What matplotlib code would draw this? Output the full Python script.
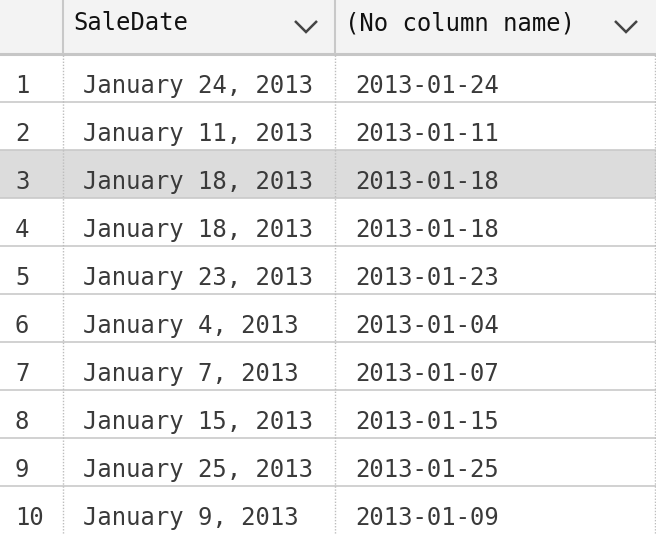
import matplotlib
matplotlib.use('Agg')
import matplotlib.pyplot as plt
from matplotlib.patches import Rectangle

row_numbers = [1, 2, 3, 4, 5, 6, 7, 8, 9, 10]
sale_dates = ['January 24, 2013', 'January 11, 2013', 'January 18, 2013',
              'January 18, 2013', 'January 23, 2013', 'January 4, 2013',
              'January 7, 2013', 'January 15, 2013', 'January 25, 2013',
              'January 9, 2013']
converted = ['2013-01-24', '2013-01-11', '2013-01-18', '2013-01-18',
             '2013-01-23', '2013-01-04', '2013-01-07', '2013-01-15',
             '2013-01-25', '2013-01-09']
columns = ['SaleDate', '(No column name)']
selected_row = 3

W, H = 656, 534
header_h = 53
row_h = 48
col_edges = [63, 335, 655]

fig = plt.figure(figsize=(W / 100, H / 100), dpi=100)
ax = fig.add_axes([0, 0, 1, 1])
ax.set_xlim(0, W)
ax.set_ylim(H, 0)
ax.axis('off')

font = 'DejaVu Sans Mono'
fs = 17.2

# header
ax.add_patch(Rectangle((0, 0), W, header_h, color='#f3f3f3', lw=0))
ax.plot([0, W], [header_h + 0.5, header_h + 0.5], color='#c6c6c6', lw=2.2)
for x in col_edges[:2]:
    ax.plot([x, x], [0, header_h], color='#c8c8c8', lw=1.5)
for i, name in enumerate(columns):
    ax.text(col_edges[i] + 10, 23, name, fontsize=fs, family=font,
            color='#111111', va='center', ha='left')
    cx = col_edges[i + 1] - 29
    ax.plot([cx - 11, cx, cx + 11], [21, 32, 21], color='#444444', lw=1.8,
            solid_joinstyle='miter', solid_capstyle='butt')

# body rows
top = header_h + 1
for k, (n, d, c) in enumerate(zip(row_numbers, sale_dates, converted)):
    y0 = top + k * row_h
    if n == selected_row:
        ax.add_patch(Rectangle((0, y0), W, row_h, color='#dcdcdc', lw=0))
    if k < len(row_numbers) - 1:
        ax.plot([0, W], [y0 + row_h, y0 + row_h], color='#c9c9c9', lw=1.2)
    base = y0 + 39
    ax.text(15, base, str(n), fontsize=fs, family=font, color='#3a3a3a',
            va='baseline', ha='left')
    ax.text(83, base, d, fontsize=fs, family=font, color='#3a3a3a',
            va='baseline', ha='left')
    ax.text(355, base, c, fontsize=fs, family=font, color='#3a3a3a',
            va='baseline', ha='left')

for x in col_edges:
    ax.plot([x, x], [header_h + 2, H], color='#bdbdbd', lw=1,
            linestyle=(0, (1, 1.2)))

fig.savefig('out.png', dpi=100)
